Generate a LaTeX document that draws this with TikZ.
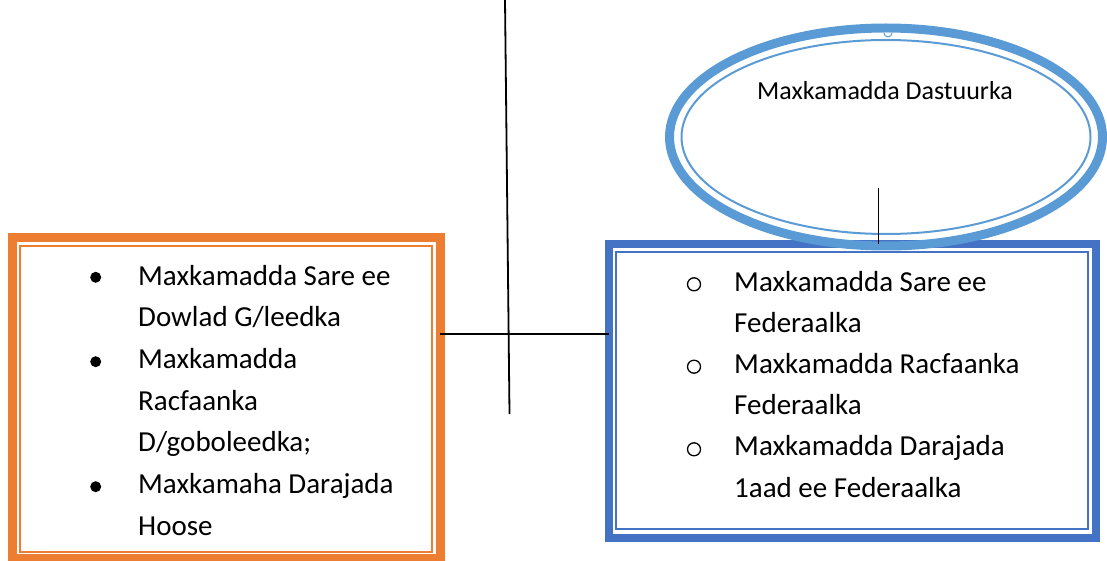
\documentclass[tikz,border=0pt]{standalone}
\usepackage{fontspec}
\setmainfont{Carlito}
\usetikzlibrary{shapes.geometric}
\definecolor{orng}{HTML}{ED7D31}
\definecolor{bbox}{HTML}{4472C4}
\definecolor{ellb}{HTML}{5B9BD5}
\begin{document}
\begin{tikzpicture}[x=1pt,y=-1pt,
  frame/.style={rectangle, inner sep=0pt, outer sep=0pt, line width=9pt},
  txt/.style={anchor=base west, inner sep=0pt, font=\fontsize{29}{35}\selectfont},
  fdot/.style={circle, fill=black, minimum size=11pt, inner sep=0pt},
  odot/.style={circle, draw=black, line width=1.3pt, minimum size=13pt, inner sep=0pt},
  conn/.style={draw=black, line width=1.8pt}
]
\useasboundingbox (0,0) rectangle (1107,561);
% orange box
\node[frame, draw=orng, minimum width=427.5pt, minimum height=320.5pt] (ob) at (226.25,397.75) {};
\draw[orng, line width=2pt] ([xshift=7.5pt,yshift=-8pt]ob.north west) rectangle ([xshift=-8pt,yshift=6.5pt]ob.south east);
% blue box
\node[frame, draw=bbox, line width=8pt, minimum width=487pt, minimum height=293.5pt] (bb) at (852.5,390.75) {};
\draw[bbox, line width=2pt] ([xshift=7pt,yshift=-8pt]bb.north west) rectangle ([xshift=-8pt,yshift=8.5pt]bb.south east);
% ellipse
\node[ellipse, draw=ellb, line width=9pt, minimum width=433pt, minimum height=218pt, inner sep=0pt, outer sep=0pt] (ell) at (886,137) {};
\draw[ellb, line width=2pt] (ell.center) ellipse [x radius=204.5, y radius=97];
\draw[ellb, line width=1pt, fill=white] (884,33) arc[start angle=180, end angle=0, radius=4];
\node[anchor=base, inner sep=0pt, font=\fontsize{26}{30}\selectfont] (etxt) at (885,99.3) {Maxkamadda Dastuurka};
% connectors
\coordinate (vt) at (505,0);
\coordinate (vb) at (509.5,414);
\draw[conn] (vt) -- (vb);
\coordinate (hy) at (0,334);
\draw[conn] (ob.east |- hy) -- (bb.west |- hy);
\coordinate (ec) at (878.5,188);
\draw[conn] (ec) -- (ec |- bb.north);
% orange box text
\node[fdot] (od1) at (95.7,277.3) {};
\node[fdot] (od2) at (95.7,361.7) {};
\node[fdot] (od3) at (95.7,486.7) {};
\node[txt] (o1) at (138,285) {Maxkamadda Sare ee};
\node[txt] (o2) at (138,326.7) {Dowlad G/leedka};
\node[txt] (o3) at (138,368.4) {Maxkamadda};
\node[txt] (o4) at (138,410.1) {Racfaanka};
\node[txt] (o5) at (138,451.8) {D/goboleedka;};
\node[txt] (o6) at (138,493.5) {Maxkamaha Darajada};
\node[txt] (o7) at (138,535.2) {Hoose};
% blue box text
\node[odot] (bd1) at (694,284.3) {};
\node[odot] (bd2) at (694,366.7) {};
\node[odot] (bd3) at (694,449.3) {};
\node[txt] (b1) at (734,291) {Maxkamadda Sare ee};
\node[txt] (b2) at (734,332.2) {Federaalka};
\node[txt] (b3) at (734,373.4) {Maxkamadda Racfaanka};
\node[txt] (b4) at (734,414.6) {Federaalka};
\node[txt] (b5) at (734,455.8) {Maxkamadda Darajada};
\node[txt] (b6) at (734,497) {1aad ee Federaalka};
\end{tikzpicture}
\end{document}
